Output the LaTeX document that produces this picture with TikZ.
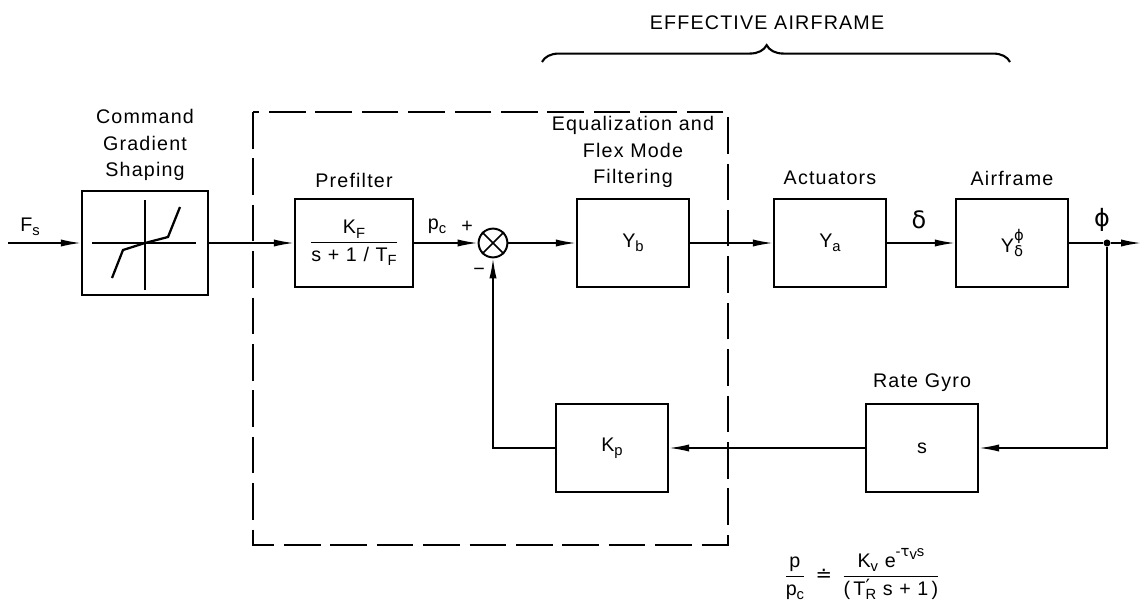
\documentclass[tikz,border=0pt]{standalone}
\usepackage{fontspec}
\setmainfont[LetterSpace=6]{Liberation Sans}
\newfontfamily\grk{DejaVu Sans}
\usetikzlibrary{arrows.meta,decorations.pathreplacing}

\newcommand\lowtxt[1]{\raisebox{-0.4ex}{\fontsize{10.5}{11}\selectfont #1}}
\newcommand\hightxt[1]{\raisebox{1.1ex}{\fontsize{10.5}{11}\selectfont #1}}

\tikzset{
  block/.style={draw,line width=1.6pt,minimum width=2.8cm,minimum height=2.2cm},
  sumnode/.style={draw,circle,line width=1.4pt,minimum size=0.72cm,inner sep=0pt},
  lbl/.style={align=center,inner sep=0pt}
}

\begin{document}
\begin{tikzpicture}[x=0.025cm,y=-0.025cm,>={Latex[length=5mm,width=1.8mm]},
    line width=1.1pt,font=\fontsize{14}{17}\selectfont]
    \useasboundingbox (0,0) rectangle (1142,604);
    % main path
    \coordinate (in) at (8,243);
    \node[block,minimum width=3.15cm,minimum height=2.6cm] (cgs) at (145,243) {};
    \node[block,minimum width=2.95cm] (pre) at (354,243)
        {$\displaystyle\frac{\hbox{K\lowtxt{F}}}{\hbox{s + 1 / T\lowtxt{F}}}$};
    \node[sumnode] (sum) at (493,243) {};
    \node[block] (yb) at (633,243) {Y\lowtxt{b}};
    \node[block] (ya) at (830,243) {Y\lowtxt{a}};
    \node[block] (af) at (1012,243) {Y\rlap{\hightxt{\grk ϕ}}\lowtxt{\grk δ}};
    \node[circle,fill,inner sep=0pt,minimum size=5pt] (dot) at (1107,243) {};
    \coordinate (out) at (1141,243);
    % feedback
    \node[block] (gyro) at (922,448) {s};
    \node[block] (kp) at (612,448) {K\lowtxt{p}};
    % shaping curve
    \draw (cgs.west) ++(11,0) -- ++(104,0);
    \draw (cgs.south) ++(0,-6) -- ++(0,-90);
    \draw[line width=1.6pt] (112,278) -- (123,250) -- (cgs.center) -- (168,237) -- (180,207);
    \draw (sum.north west) -- (sum.south east) (sum.north east) -- (sum.south west);
    % labels
    \node[lbl] (cgsl) at (145,145) {Command\\[2pt]Gradient\\[2pt]Shaping};
    \node[lbl] (prel) at (354,180) {Prefilter};
    \node[lbl] (ybl) at (633,152) {Equalization and\\[2pt]Flex Mode\\[2pt]Filtering};
    \node[lbl] (yal) at (830,178) {Actuators};
    \node[lbl] (afl) at (1012,178) {Airframe};
    \node[lbl] (gyrol) at (922,383) {Rate Gyro};
    \node[lbl] (fs) at (30,227) {F\lowtxt{s}};
    \node[lbl] (pc) at (437,226) {p\lowtxt{c}};
    \node[lbl] (plus) at (467,227) {+};
    \node[lbl] (minus) at (479,272) {−};
    \node[lbl] (del) at (919,220) {\grk\fontsize{17}{17}\selectfont δ};
    \node[lbl] (phi) at (1102,220) {\grk\fontsize{17}{17}\selectfont ϕ};
    \node[lbl] (eff) at (767,23) {EFFECTIVE AIRFRAME};
    \node[lbl] (tf) at (862,574)
        {$\displaystyle\frac{\hbox{p}}{\hbox{p\lowtxt{c}}}$\enspace{\grk ≐}\enspace
         $\displaystyle\frac{\hbox{K\lowtxt{v} e\hightxt{-{\grk τ}\lowtxt{v}s}}}{\hbox{(\,T\rlap{\raisebox{0.2ex}{\grk ′}}\lowtxt{R} s + 1\,)}}$};
    % connectors
    \draw[->] (in) -- (cgs);
    \draw[->] (cgs) -- (pre);
    \draw[->] (pre) -- (sum);
    \draw[->] (sum) -- (yb);
    \draw[->] (yb) -- (ya);
    \draw[->] (ya) -- (af);
    \draw (af) -- (dot);
    \draw[->] (dot) -- (out);
    \draw[->] (dot) |- (gyro);
    \draw[->] (gyro) -- (kp);
    \draw[->] (kp.west) -| (sum.south);
    % dashed boundary and brace
    \draw[line width=2pt,dash pattern=on 26pt off 7pt] (253,112) rectangle (728,545);
    \draw[line width=1.5pt,decorate,decoration={brace,amplitude=12pt,aspect=0.48}] (542,62) -- (1010,62);
\end{tikzpicture}
\end{document}
